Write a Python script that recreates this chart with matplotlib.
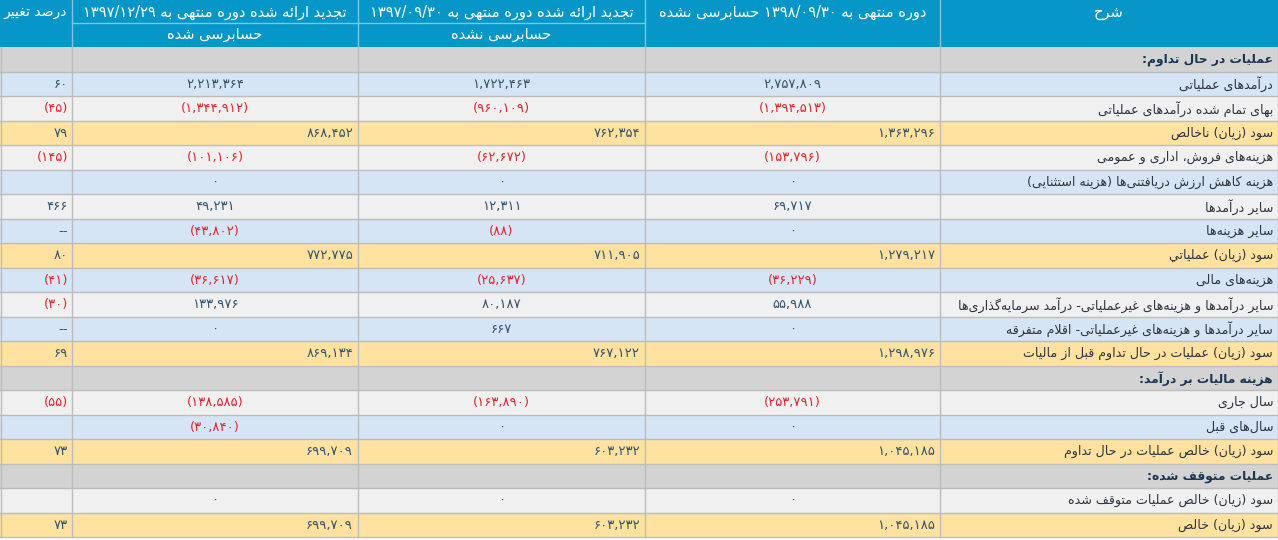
import re
import matplotlib
matplotlib.use("Agg")
import matplotlib.pyplot as plt
from matplotlib.patches import Rectangle

# ---- data ----
labels = [
    "عملیات در حال تداوم:",
    "درآمدهای عملیاتی",
    "بهای تمام شده درآمدهای عملیاتی",
    "سود (زیان) ناخالص",
    "هزینه\u200cهای فروش، اداری و عمومی",
    "هزینه کاهش ارزش دریافتنی\u200cها (هزینه استثنایی)",
    "سایر درآمدها",
    "سایر هزینه\u200cها",
    "سود (زیان) عملیاتي",
    "هزینه\u200cهای مالی",
    "سایر درآمدها و هزینه\u200cهای غیرعملیاتی- درآمد سرمایه\u200cگذاری\u200cها",
    "سایر درآمدها و هزینه\u200cهای غیرعملیاتی- اقلام متفرقه",
    "سود (زیان) عملیات در حال تداوم قبل از مالیات",
    "هزینه مالیات بر درآمد:",
    "سال جاری",
    "سال\u200cهای قبل",
    "سود (زیان) خالص عملیات در حال تداوم",
    "عملیات متوقف شده:",
    "سود (زیان) خالص عملیات متوقف شده",
    "سود (زیان) خالص",
]
# s = section, b = blue, g = gray, y = subtotal (yellow)
row_kind = ["s", "b", "g", "y", "g", "b", "g", "b", "y", "b",
            "g", "b", "y", "s", "g", "b", "y", "s", "g", "y"]

val_1398_09 = [None, 2757809, -1394513, 1363296, -153796, 0, 69717, 0, 1279217, -36229,
               55988, 0, 1298976, None, -253791, 0, 1045185, None, 0, 1045185]
val_1397_09 = [None, 1722463, -960109, 762354, -62672, 0, 12311, -88, 711905, -25637,
               80187, 667, 767122, None, -163890, 0, 603232, None, 0, 603232]
val_1397_12 = [None, 2213364, -1344912, 868452, -101106, 0, 49231, -43802, 772775, -36617,
               133976, 0, 869134, None, -138585, -30840, 699709, None, 0, 699709]
pct_change = [None, 60, -45, 79, -145, None, 466, "--", 80, -41,
              -30, "--", 69, None, -55, None, 73, None, None, 73]

hdr_label = "شرح"
hdr_1398 = "دوره منتهی به ۱۳۹۸/۰۹/۳۰ حسابرسی نشده"
hdr_1397_09 = "تجدید ارائه شده دوره منتهی به ۱۳۹۷/۰۹/۳۰"
hdr_1397_12 = "تجدید ارائه شده دوره منتهی به ۱۳۹۷/۱۲/۲۹"
sub_1397_09 = "حسابرسی نشده"
sub_1397_12 = "حسابرسی شده"
hdr_pct = "درصد تغییر"

# ---- persian shaping (matplotlib has no text shaping) ----
FORMS = {
    "ا": "\uFE8D\uFE8E", "آ": "\uFE81\uFE82", "أ": "\uFE83\uFE84",
    "د": "\uFEA9\uFEAA", "ذ": "\uFEAB\uFEAC", "ر": "\uFEAD\uFEAE",
    "ز": "\uFEAF\uFEB0", "ژ": "\uFB8A\uFB8B", "و": "\uFEED\uFEEE",
    "ئ": "\uFE89\uFE8A\uFE8B\uFE8C",
    "ب": "\uFE8F\uFE90\uFE91\uFE92", "پ": "\uFB56\uFB57\uFB58\uFB59",
    "ت": "\uFE95\uFE96\uFE97\uFE98", "ث": "\uFE99\uFE9A\uFE9B\uFE9C",
    "ج": "\uFE9D\uFE9E\uFE9F\uFEA0", "چ": "\uFB7A\uFB7B\uFB7C\uFB7D",
    "ح": "\uFEA1\uFEA2\uFEA3\uFEA4", "خ": "\uFEA5\uFEA6\uFEA7\uFEA8",
    "س": "\uFEB1\uFEB2\uFEB3\uFEB4", "ش": "\uFEB5\uFEB6\uFEB7\uFEB8",
    "ص": "\uFEB9\uFEBA\uFEBB\uFEBC", "ض": "\uFEBD\uFEBE\uFEBF\uFEC0",
    "ط": "\uFEC1\uFEC2\uFEC3\uFEC4", "ظ": "\uFEC5\uFEC6\uFEC7\uFEC8",
    "ع": "\uFEC9\uFECA\uFECB\uFECC", "غ": "\uFECD\uFECE\uFECF\uFED0",
    "ف": "\uFED1\uFED2\uFED3\uFED4", "ق": "\uFED5\uFED6\uFED7\uFED8",
    "ک": "\uFB8E\uFB8F\uFB90\uFB91", "گ": "\uFB92\uFB93\uFB94\uFB95",
    "ل": "\uFEDD\uFEDE\uFEDF\uFEE0", "م": "\uFEE1\uFEE2\uFEE3\uFEE4",
    "ن": "\uFEE5\uFEE6\uFEE7\uFEE8", "ه": "\uFEE9\uFEEA\uFEEB\uFEEC",
    "ی": "\uFBFC\uFBFD\uFBFE\uFBFF", "ي": "\uFEF1\uFEF2\uFEF3\uFEF4",
}
NUM_RUN = re.compile(r"[\u06F0-\u06F90-9]+(?:[/,.][\u06F0-\u06F90-9]+)*")


def shape(s):
    out = []
    i = 0
    n = len(s)
    while i < n:
        c = s[i]
        if c not in FORMS:
            if c != "\u200c":
                out.append(c)
            i += 1
            continue
        prev = s[i - 1] if i > 0 else ""
        cp = prev in FORMS and len(FORMS[prev]) == 4
        if c == "ل" and i + 1 < n and s[i + 1] in "اآ":
            lig = "\uFEFB\uFEFC" if s[i + 1] == "ا" else "\uFEF5\uFEF6"
            out.append(lig[1] if cp else lig[0])
            i += 2
            continue
        nxt = s[i + 1] if i + 1 < n else ""
        f = FORMS[c]
        cn = len(f) == 4 and nxt in FORMS
        if cp and cn:
            out.append(f[3])
        elif cp:
            out.append(f[1])
        elif cn:
            out.append(f[2])
        else:
            out.append(f[0])
        i += 1
    return "".join(out)


def rtl(s):
    s = shape(s)
    parts = []
    pos = 0
    for m in NUM_RUN.finditer(s):
        parts.append((s[pos:m.start()], False))
        parts.append((m.group(), True))
        pos = m.end()
    parts.append((s[pos:], False))
    res = ""
    for txt, isnum in reversed(parts):
        if isnum:
            res += txt
        else:
            res += txt[::-1].translate(str.maketrans("()", ")("))
    return res


FA = str.maketrans("0123456789", "۰۱۲۳۴۵۶۷۸۹")


def fmt(v):
    if v is None:
        return ""
    if isinstance(v, str):
        return v
    t = f"{abs(v):,}".translate(FA)
    return f"({t})" if v < 0 else t


# ---- layout ----
W, H = 1278, 540
col_edges = [0, 72, 358, 645, 940, 1278]
hdr_h = 47
row_h = 24.5

c_head = "#0796c8"
c_line_head = "#7cc8e4"
c_fill = {"s": "#d3d3d3", "b": "#d5e5f5", "g": "#f0f0f0", "y": "#ffe2a0"}
c_grid = "#bcbcbc"
c_num = "#34546f"
c_neg = "#e3262d"
c_text = "#2e3440"
c_sec = "#1c3552"

fig = plt.figure(figsize=(W / 100, H / 100), dpi=100)
ax = fig.add_axes([0, 0, 1, 1])
ax.set_xlim(0, W)
ax.set_ylim(H, 0)
ax.axis("off")

fs = 9.1
fs_num = 9.5
fs_head = 10.5

# header
ax.add_patch(Rectangle((0, 0), W, hdr_h, color=c_head, lw=0))
ax.plot([col_edges[1], col_edges[3]], [23, 23], color=c_line_head, lw=1)
for x in col_edges[1:-1]:
    ax.plot([x, x], [0, hdr_h], color=c_line_head, lw=1)
ht = dict(color="white", fontsize=fs_head, va="center")
ax.text((col_edges[4] + col_edges[5]) / 2, 12, rtl(hdr_label), ha="center", **ht)
ax.text((col_edges[3] + col_edges[4]) / 2, 12, rtl(hdr_1398), ha="center", **ht)
ax.text((col_edges[2] + col_edges[3]) / 2, 12, rtl(hdr_1397_09), ha="center", **ht)
ax.text((col_edges[1] + col_edges[2]) / 2, 12, rtl(hdr_1397_12), ha="center", **ht)
ax.text((col_edges[2] + col_edges[3]) / 2, 35, rtl(sub_1397_09), ha="center", **ht)
ax.text((col_edges[1] + col_edges[2]) / 2, 35, rtl(sub_1397_12), ha="center", **ht)
ax.text(col_edges[1] - 5, 12, rtl(hdr_pct), ha="right", color="white",
        fontsize=10, va="center")

# body
value_cols = [(val_1398_09, 3), (val_1397_09, 2), (val_1397_12, 1)]
for i, lab in enumerate(labels):
    kind = row_kind[i]
    y0 = hdr_h + i * row_h
    yc = y0 + row_h / 2 + 0.5
    ax.add_patch(Rectangle((0, y0), W, row_h, color=c_fill[kind], lw=0))
    ax.plot([0, W], [y0 + row_h, y0 + row_h], color=c_grid, lw=1)
    if kind == "s":
        ax.text(col_edges[5] - 5, yc, rtl(lab), ha="right", va="center",
                fontsize=8.8, fontweight="bold", color=c_sec)
        continue
    ax.text(col_edges[5] - 5, yc, rtl(lab), ha="right", va="center",
            fontsize=fs, color=c_text)
    for vals, ci in value_cols:
        v = vals[i]
        if v is None:
            continue
        col = c_neg if v < 0 else c_num
        if kind == "y":
            ax.text(col_edges[ci + 1] - 5, yc, fmt(v), ha="right", va="center",
                    fontsize=fs_num, color=col)
        else:
            ax.text((col_edges[ci] + col_edges[ci + 1]) / 2, yc, fmt(v),
                    ha="center", va="center", fontsize=fs_num, color=col)
    p = pct_change[i]
    if p is not None:
        col = c_neg if (not isinstance(p, str) and p < 0) else c_num
        ax.text(col_edges[1] - 4, yc, fmt(p), ha="right", va="center",
                fontsize=fs_num, color=col)

body_end = hdr_h + len(labels) * row_h
for x in col_edges[1:-1]:
    ax.plot([x, x], [hdr_h, body_end], color=c_grid, lw=1)
ax.plot([0.5, 0.5], [hdr_h, body_end], color=c_grid, lw=1)
ax.plot([W - 0.5, W - 0.5], [hdr_h, body_end], color=c_grid, lw=1)

fig.savefig("out.png", dpi=100)
